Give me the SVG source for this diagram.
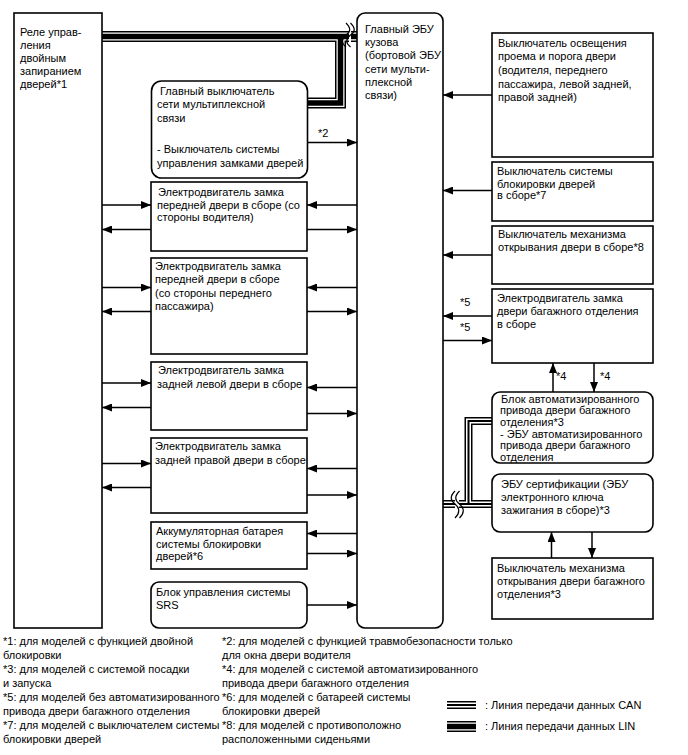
<svg xmlns="http://www.w3.org/2000/svg" width="688" height="755" viewBox="0 0 688 755">
<defs>
<style>
text{font-family:"Liberation Sans",Arial,sans-serif;font-size:11px;fill:#000}
.fn{font-size:11px}
.lbl{font-size:11px}
.box{fill:#fff;stroke:#000;stroke-width:1.6}
.ar{fill:none;stroke:#000;stroke-width:1.5;marker-end:url(#ah)}
.b1{fill:none;stroke:#000;stroke-width:11}
.b2{fill:none;stroke:#fff;stroke-width:8}
.b3{fill:none;stroke:#000;stroke-width:5.5}
.c1{fill:none;stroke:#000;stroke-width:8}
.c2{fill:none;stroke:#fff;stroke-width:5}
.c3{fill:none;stroke:#000;stroke-width:2}
.wv{fill:none;stroke:#000;stroke-width:1.2}
</style>
<marker id="ah" markerUnits="userSpaceOnUse" markerWidth="11" markerHeight="8" refX="10" refY="4" orient="auto">
<path d="M0,0 L10,4 L0,8 z" fill="#000"/>
</marker>
</defs>
<rect width="688" height="755" fill="#fff"/>

<g id="connectors">
<path class="b1" d="M102,36.5 H349 M307,103 H340.5 V36.5"/>
<path class="b2" d="M102,36.5 H349 M307,103 H340.5 V36.5"/>
<path class="b3" d="M102,36.5 H349 M307,103 H340.5 V36.5"/>
<path class="b1" d="M351,36.5 H357"/>
<path class="b2" d="M351,36.5 H357"/>
<path class="b3" d="M351,36.5 H357"/>
<path class="wv" d="M346,23 c5,5 5,9 0,12 c-5,4 -5,8 0,12"/>
<path class="wv" d="M350.5,23 c5,5 5,9 0,12 c-5,4 -5,8 0,12"/>
<path class="c1" d="M492,421 H468.5 V504 M492,504 H459"/>
<path class="c2" d="M492,421 H468.5 V504 M492,504 H459"/>
<path class="c3" d="M492,421 H468.5 V504 M492,504 H459"/>
<path class="c1" d="M455,504 H443"/>
<path class="c2" d="M455,504 H443"/>
<path class="c3" d="M455,504 H443"/>
<path class="wv" d="M455,491 c-5,5 -5,9 0,13 c5,4 5,9 0,14"/>
<path class="wv" d="M459.5,491 c-5,5 -5,9 0,13 c5,4 5,9 0,14"/>

<path class="ar" d="M307,142.5 H357"/>
<path class="ar" d="M102,205 H151"/>
<path class="ar" d="M151,229.5 H102"/>
<path class="ar" d="M357,205 H307"/>
<path class="ar" d="M307,229.5 H357"/>
<path class="ar" d="M102,287.5 H151"/>
<path class="ar" d="M151,311.5 H102"/>
<path class="ar" d="M357,287.5 H307"/>
<path class="ar" d="M307,311.5 H357"/>
<path class="ar" d="M102,383 H151"/>
<path class="ar" d="M151,407.5 H102"/>
<path class="ar" d="M357,387.5 H307"/>
<path class="ar" d="M307,413.5 H357"/>
<path class="ar" d="M102,463.5 H151"/>
<path class="ar" d="M151,487.5 H102"/>
<path class="ar" d="M357,468.5 H307"/>
<path class="ar" d="M307,495 H357"/>
<path class="ar" d="M357,533.5 H307"/>
<path class="ar" d="M307,553.5 H357"/>
<path class="ar" d="M307,605 H357"/>
<path class="ar" d="M492,95 H443"/>
<path class="ar" d="M492,190.5 H443"/>
<path class="ar" d="M492,255 H443"/>
<path class="ar" d="M492,316 H443"/>
<path class="ar" d="M443,340.5 H492"/>
<path class="ar" d="M553,392 V363"/>
<path class="ar" d="M594,363 V392"/>
<path class="ar" d="M551.5,558 V532"/>
<path class="ar" d="M592,532 V558"/>
<text class="lbl" x="318" y="137">*2</text>
<text class="lbl" x="460" y="306">*5</text>
<text class="lbl" x="460" y="331">*5</text>
<text class="lbl" x="556" y="380">*4</text>
<text class="lbl" x="600" y="380">*4</text>
</g>

<g id="relay">
<rect class="box" x="14" y="13" width="88" height="615"/>
<text x="20" y="36">Реле управ-</text>
<text x="20" y="49">ления</text>
<text x="20" y="62">двойным</text>
<text x="20" y="75">запиранием</text>
<text x="20" y="88">дверей*1</text>
</g>

<g id="body-ecu">
<rect class="box" x="357" y="13" width="86" height="615" rx="8"/>
<text x="365" y="32.5">Главный ЭБУ</text>
<text x="365" y="46">кузова</text>
<text x="365" y="59">(бортовой ЭБУ</text>
<text x="365" y="72.5">сети мульти-</text>
<text x="365" y="86">плексной</text>
<text x="365" y="99">связи)</text>
</g>

<g id="main-switch">
<rect class="box" x="151.5" y="81" width="156" height="97" rx="10"/>
<text x="160" y="95">Главный выключатель</text>
<text x="157" y="108">сети мультиплексной</text>
<text x="157" y="122">связи</text>
<text x="157" y="153">- Выключатель системы</text>
<text x="157" y="167">управления замками дверей</text>
</g>

<g id="front-driver-motor">
<rect class="box" x="151" y="182" width="156" height="69"/>
<text x="158" y="196">Электродвигатель замка</text>
<text x="157" y="209">передней двери в сборе (со</text>
<text x="157" y="221">стороны водителя)</text>
</g>

<g id="front-passenger-motor">
<rect class="box" x="151" y="258" width="156" height="96"/>
<text x="155" y="269.5">Электродвигатель замка</text>
<text x="155" y="283">передней двери в сборе</text>
<text x="155" y="296.5">(со стороны переднего</text>
<text x="155" y="310">пассажира)</text>
</g>

<g id="rear-left-motor">
<rect class="box" x="151" y="362" width="156" height="68"/>
<text x="158" y="373.5">Электродвигатель замка</text>
<text x="157" y="387.5">задней левой двери в сборе</text>
</g>

<g id="rear-right-motor">
<rect class="box" x="151" y="438" width="156" height="75"/>
<text x="155" y="450">Электродвигатель замка</text>
<text x="155" y="464">задней правой двери в сборе</text>
</g>

<g id="battery">
<rect class="box" x="151" y="522" width="156" height="47"/>
<text x="156" y="535">Аккумуляторная батарея</text>
<text x="156" y="548">системы блокировки</text>
<text x="156" y="560">дверей*6</text>
</g>

<g id="srs">
<rect class="box" x="151" y="582" width="156" height="46" rx="8"/>
<text x="156" y="596">Блок управления системы</text>
<text x="156" y="609">SRS</text>
</g>

<g id="courtesy-switch">
<rect class="box" x="492" y="33" width="161" height="124"/>
<text x="498" y="47">Выключатель освещения</text>
<text x="498" y="60">проема и порога двери</text>
<text x="498" y="74">(водителя, переднего</text>
<text x="498" y="87.5">пассажира, левой задней,</text>
<text x="498" y="101">правой задней)</text>
</g>

<g id="door-lock-switch">
<rect class="box" x="492" y="162" width="161" height="59"/>
<text x="497" y="175">Выключатель системы</text>
<text x="497" y="187.5">блокировки дверей</text>
<text x="497" y="199">в сборе*7</text>
</g>

<g id="door-opener-switch">
<rect class="box" x="492" y="226" width="161" height="58"/>
<text x="498" y="237.5">Выключатель механизма</text>
<text x="498" y="251">открывания двери в сборе*8</text>
</g>

<g id="back-door-motor">
<rect class="box" x="492" y="289" width="161" height="74"/>
<text x="497" y="301.5">Электродвигатель замка</text>
<text x="497" y="315">двери багажного отделения</text>
<text x="497" y="328">в сборе</text>
</g>

<g id="power-back-door">
<rect class="box" x="492" y="392" width="161" height="71" rx="8"/>
<text x="501" y="402.5">Блок автоматизированного</text>
<text x="500" y="414">привода двери багажного</text>
<text x="500" y="426">отделения*3</text>
<text x="500" y="437.5">- ЭБУ автоматизированного</text>
<text x="500" y="449">привода двери багажного</text>
<text x="500" y="461">отделения</text>
</g>

<g id="certification-ecu">
<rect class="box" x="492" y="474" width="161" height="58" rx="8"/>
<text x="501" y="488">ЭБУ сертификации (ЭБУ</text>
<text x="501" y="501">электронного ключа</text>
<text x="501" y="514">зажигания в сборе)*3</text>
</g>

<g id="back-door-opener-switch">
<rect class="box" x="492" y="558" width="161" height="61"/>
<text x="497" y="571.5">Выключатель механизма</text>
<text x="497" y="585">открывания двери багажного</text>
<text x="497" y="597.5">отделения*3</text>
</g>

<g id="footnotes">
<text class="fn" x="3" y="645">*1: для моделей с функцией двойной</text>
<text class="fn" x="3" y="659">блокировки</text>
<text class="fn" x="3" y="673">*3: для моделей с системой посадки</text>
<text class="fn" x="3" y="687">и запуска</text>
<text class="fn" x="3" y="701">*5: для моделей без автоматизированного</text>
<text class="fn" x="3" y="715">привода двери багажного отделения</text>
<text class="fn" x="3" y="729">*7: для моделей с выключателем системы</text>
<text class="fn" x="3" y="743">блокировки дверей</text>
<text class="fn" x="222" y="645">*2: для моделей с функцией травмобезопасности только</text>
<text class="fn" x="222" y="659">для окна двери водителя</text>
<text class="fn" x="222" y="673">*4: для моделей с системой автоматизированного</text>
<text class="fn" x="222" y="687">привода двери багажного отделения</text>
<text class="fn" x="222" y="701">*6: для моделей с батареей системы</text>
<text class="fn" x="222" y="715">блокировки дверей</text>
<text class="fn" x="222" y="729">*8: для моделей с противоположно</text>
<text class="fn" x="222" y="743">расположенными сиденьями</text>
</g>

<g id="legend">
<path class="c1" d="M447,705 H476"/>
<path class="c2" d="M447,705 H476"/>
<path class="c3" d="M447,705 H476"/>
<path class="b1" d="M447,726.5 H476"/>
<path class="b2" d="M447,726.5 H476"/>
<path class="b3" d="M447,726.5 H476"/>
<text class="fn" x="485" y="709">: Линия передачи данных CAN</text>
<text class="fn" x="485" y="730">: Линия передачи данных LIN</text>
</g>
</svg>
